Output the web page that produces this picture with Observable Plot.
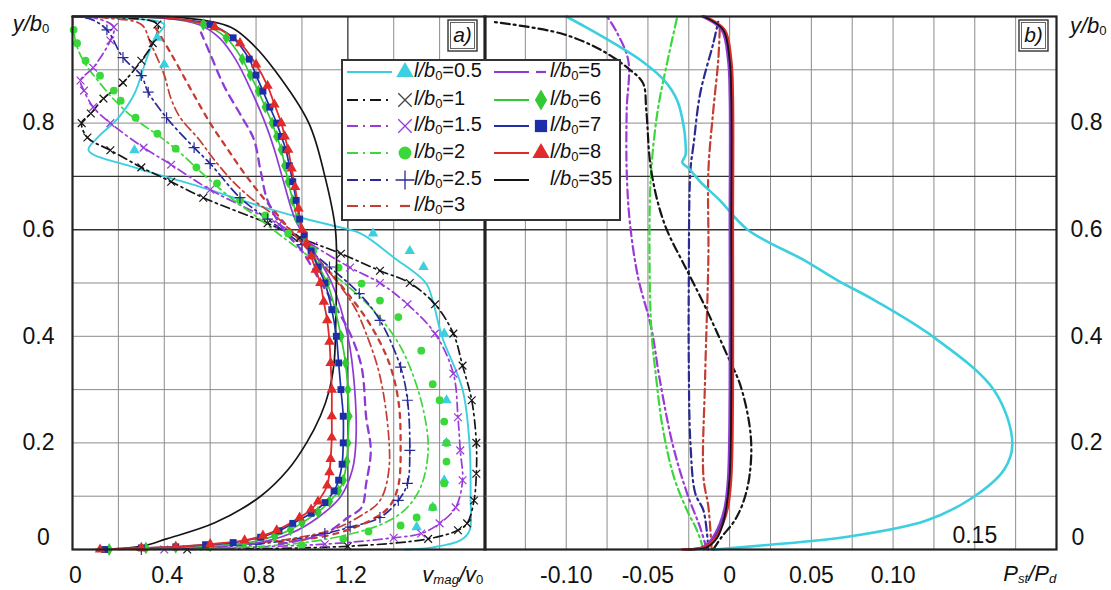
<!DOCTYPE html>
<html><head><meta charset="utf-8">
<script src="https://cdn.jsdelivr.net/npm/d3@7"></script>
<script src="https://cdn.jsdelivr.net/npm/@observablehq/plot@0.6"></script>
<style>
html,body{margin:0;padding:0;background:#fff;}
#wrap{position:relative;width:1111px;height:590px;overflow:hidden;font-family:"Liberation Sans",Arial,Helvetica,sans-serif;}
#wrap > svg{position:absolute;top:0;overflow:visible;}
</style></head><body><div id="wrap"></div>
<script>
// ---------------- DATA ----------------
const seriesLabels = ["0.5","1","1.5","2","2.5","3","5","6","7","8","35"];

// panel a) : v_mag/v_0 (x) versus y/b_0 (y)
const a05 = [[1.45,0],[1.57,0.004],[1.69,0.017],[1.73,0.035],[1.735,0.1],[1.73,0.2],[1.70,0.3],[1.61,0.4],[1.57,0.467],[1.54,0.5],[1.40,0.548],[1.255,0.593],[1.14,0.607],[1.0,0.622],[0.85,0.64],[0.56,0.68],[0.27,0.717],[0.07,0.749],[0.11,0.773],[0.2,0.81],[0.27,0.855],[0.32,0.917],[0.36,0.96],[0.40,0.985],[0.2,0.997],[0,1]];
const a05m = [[1.50,0.042],[1.57,0.079],[1.62,0.13],[1.63,0.2],[1.63,0.28],[1.62,0.405],[1.53,0.53],[1.47,0.56],[1.31,0.593],[0.27,0.749],[0.40,0.91],[0.37,0.96]];
const a1 = [[0.5,0],[1.2,0.006],[1.55,0.02],[1.68,0.036],[1.72,0.049],[1.75,0.092],[1.76,0.142],[1.76,0.2],[1.74,0.28],[1.70,0.345],[1.66,0.405],[1.58,0.46],[1.47,0.5],[1.34,0.523],[1.17,0.555],[0.99,0.585],[0.85,0.612],[0.57,0.66],[0.43,0.69],[0.30,0.717],[0.165,0.749],[0.065,0.773],[0.04,0.8],[0.08,0.818],[0.135,0.846],[0.22,0.876],[0.30,0.917],[0.35,0.95],[0.37,0.985],[0.2,0.998],[0,1]];
const a15 = [[0.4,0],[1.1,0.01],[1.4,0.022],[1.52,0.03],[1.60,0.049],[1.67,0.079],[1.70,0.13],[1.69,0.186],[1.68,0.248],[1.66,0.33],[1.58,0.405],[1.46,0.46],[1.34,0.5],[1.21,0.529],[1.05,0.57],[0.9,0.61],[0.6,0.675],[0.43,0.722],[0.31,0.754],[0.165,0.8],[0.09,0.83],[0.05,0.861],[0.035,0.88],[0.09,0.904],[0.165,0.955],[0.18,0.98],[0.1,0.997],[0,1]];
const a2 = [[0.3,0],[0.95,0.01],[1.22,0.03],[1.36,0.05],[1.45,0.075],[1.51,0.11],[1.54,0.15],[1.55,0.2],[1.53,0.26],[1.49,0.32],[1.43,0.38],[1.35,0.43],[1.25,0.475],[1.14,0.515],[1.03,0.55],[0.92,0.585],[0.80,0.625],[0.69,0.66],[0.58,0.7],[0.48,0.74],[0.38,0.775],[0.28,0.805],[0.19,0.84],[0.11,0.88],[0.05,0.915],[0.015,0.95],[0.003,0.985],[0,1]];
const a2m = [[1.0,0.008],[1.18,0.02],[1.29,0.034],[1.43,0.045],[1.50,0.06],[1.57,0.079],[1.62,0.124],[1.63,0.165],[1.63,0.2],[1.62,0.24],[1.60,0.28],[1.57,0.31],[1.52,0.373],[1.42,0.436],[1.34,0.467],[1.26,0.499],[1.16,0.529],[1.05,0.561],[0.94,0.593],[0.84,0.627],[0.73,0.655],[0.63,0.687],[0.54,0.717],[0.45,0.752],[0.37,0.78],[0.275,0.81],[0.21,0.842],[0.18,0.861],[0.12,0.889],[0.057,0.917],[0.02,0.95],[0.005,0.975]];
const a25 = [[0.3,0],[0.8,0.01],[1.1,0.03],[1.21,0.042],[1.34,0.06],[1.42,0.092],[1.46,0.124],[1.47,0.186],[1.46,0.28],[1.43,0.342],[1.34,0.43],[1.25,0.48],[1.12,0.53],[1.0,0.572],[0.85,0.62],[0.73,0.66],[0.60,0.724],[0.53,0.754],[0.41,0.81],[0.33,0.858],[0.30,0.889],[0.22,0.923],[0.15,0.975],[0.08,0.995],[0,1]];
const a3 = [[0.25,0],[0.6,0.006],[0.95,0.02],[1.15,0.04],[1.27,0.067],[1.33,0.086],[1.36,0.11],[1.38,0.154],[1.38,0.2],[1.36,0.28],[1.33,0.342],[1.28,0.405],[1.23,0.454],[1.12,0.52],[1.0,0.575],[0.9,0.62],[0.79,0.655],[0.70,0.69],[0.62,0.73],[0.55,0.77],[0.47,0.81],[0.43,0.845],[0.40,0.89],[0.34,0.95],[0.30,0.985],[0.15,0.997],[0,1]];
const a3m = [[0.9,0.012],[1.15,0.03],[1.3,0.055],[1.38,0.08],[1.42,0.12],[1.43,0.2],[1.42,0.28],[1.38,0.35],[1.30,0.42],[1.2,0.48],[1.1,0.53],[0.97,0.59],[0.85,0.65],[0.75,0.705],[0.67,0.755],[0.60,0.8],[0.52,0.86],[0.43,0.93],[0.36,0.98]];
const a5 = [[0.2,0],[0.5,0.004],[0.8,0.012],[0.95,0.03],[1.07,0.06],[1.17,0.1],[1.22,0.15],[1.235,0.2],[1.23,0.3],[1.20,0.4],[1.13,0.5],[1.05,0.56],[0.97,0.62],[0.92,0.69],[0.88,0.75],[0.84,0.8],[0.78,0.86],[0.71,0.92],[0.64,0.96],[0.55,0.985],[0.4,0.997],[0,1]];
const a5m = [[0.9,0.01],[1.1,0.03],[1.2,0.06],[1.26,0.079],[1.28,0.124],[1.30,0.186],[1.28,0.248],[1.26,0.342],[1.21,0.405],[1.14,0.46],[1.07,0.51],[1.0,0.56],[0.92,0.6],[0.85,0.655],[0.82,0.71],[0.79,0.77],[0.74,0.81],[0.66,0.87],[0.60,0.93],[0.56,0.97]];
const a6 = [[0.16,0],[0.32,0.003],[0.45,0.004],[0.6,0.007],[0.75,0.012],[0.88,0.025],[0.95,0.037],[1.0,0.05],[1.07,0.07],[1.12,0.09],[1.16,0.11],[1.18,0.13],[1.195,0.165],[1.20,0.2],[1.205,0.25],[1.20,0.3],[1.19,0.35],[1.17,0.4],[1.145,0.45],[1.11,0.5],[1.075,0.53],[1.04,0.56],[1.01,0.59],[0.98,0.62],[0.96,0.655],[0.94,0.69],[0.925,0.72],[0.91,0.75],[0.89,0.775],[0.87,0.8],[0.84,0.83],[0.81,0.86],[0.775,0.89],[0.74,0.92],[0.67,0.96],[0.57,0.985],[0.40,0.997],[0,1]];
const a7 = [[0.14,0],[0.3,0.003],[0.45,0.005],[0.58,0.009],[0.70,0.013],[0.82,0.023],[0.90,0.035],[0.96,0.049],[1.04,0.068],[1.10,0.088],[1.14,0.11],[1.16,0.13],[1.175,0.16],[1.18,0.2],[1.18,0.25],[1.17,0.3],[1.16,0.35],[1.15,0.4],[1.13,0.45],[1.10,0.5],[1.07,0.53],[1.04,0.56],[1.01,0.59],[0.99,0.62],[0.975,0.655],[0.96,0.69],[0.945,0.72],[0.93,0.75],[0.91,0.775],[0.89,0.8],[0.86,0.83],[0.83,0.86],[0.80,0.89],[0.77,0.92],[0.70,0.96],[0.60,0.985],[0.40,0.997],[0,1]];
const a8 = [[0.12,0],[0.3,0.003],[0.45,0.005],[0.6,0.01],[0.75,0.017],[0.83,0.026],[0.89,0.036],[0.99,0.06],[1.04,0.075],[1.07,0.09],[1.11,0.12],[1.12,0.145],[1.125,0.17],[1.13,0.21],[1.13,0.25],[1.13,0.3],[1.125,0.35],[1.12,0.39],[1.11,0.43],[1.095,0.465],[1.08,0.5],[1.06,0.525],[1.04,0.55],[1.02,0.575],[1.0,0.6],[0.985,0.64],[0.97,0.68],[0.955,0.715],[0.94,0.75],[0.925,0.775],[0.91,0.8],[0.88,0.835],[0.85,0.87],[0.80,0.91],[0.73,0.95],[0.62,0.98],[0.45,0.996],[0,1]];
const a35 = [[0.10,0],[0.30,0.006],[0.41,0.02],[0.62,0.05],[0.82,0.1],[0.94,0.15],[1.02,0.2],[1.08,0.25],[1.12,0.3],[1.14,0.35],[1.146,0.4],[1.15,0.5],[1.146,0.6],[1.10,0.7],[1.03,0.8],[0.88,0.9],[0.78,0.95],[0.69,0.98],[0.5,0.997],[0,1]];

// panel b) : P_st/P_d (x) versus y/b_0 (y)
const b05 = [[-0.009,0],[0.021,0.008],[0.07,0.023],[0.12,0.054],[0.149,0.098],[0.168,0.15],[0.173,0.199],[0.162,0.298],[0.125,0.398],[0.089,0.467],[0.066,0.505],[0.046,0.542],[0.011,0.6],[-0.006,0.655],[-0.018,0.69],[-0.025,0.715],[-0.029,0.726],[-0.027,0.74],[-0.027,0.762],[-0.028,0.792],[-0.032,0.842],[-0.04,0.88],[-0.054,0.917],[-0.071,0.95],[-0.088,0.98],[-0.1,1.0]];
const b1 = [[-0.01,0],[-0.005,0.023],[0.003,0.054],[0.008,0.086],[0.012,0.135],[0.013,0.21],[0.007,0.304],[-0.002,0.368],[-0.016,0.462],[-0.026,0.523],[-0.040,0.612],[-0.048,0.711],[-0.051,0.824],[-0.053,0.875],[-0.061,0.9],[-0.078,0.936],[-0.103,0.968],[-0.145,0.99]];
const b15 = [[-0.014,0],[-0.018,0.041],[-0.026,0.105],[-0.035,0.199],[-0.043,0.323],[-0.048,0.417],[-0.056,0.51],[-0.061,0.612],[-0.063,0.711],[-0.063,0.824],[-0.062,0.917],[-0.069,0.97],[-0.075,1.0]];
const b2 = [[-0.016,0],[-0.02,0.036],[-0.026,0.073],[-0.034,0.135],[-0.041,0.229],[-0.045,0.323],[-0.048,0.417],[-0.049,0.612],[-0.048,0.711],[-0.044,0.824],[-0.038,0.917],[-0.032,1.0]];
const b25 = [[-0.013,0],[-0.016,0.073],[-0.021,0.105],[-0.024,0.2],[-0.025,0.35],[-0.025,0.5],[-0.024,0.711],[-0.022,0.762],[-0.018,0.856],[-0.01,0.95],[-0.007,0.99]];
const b3 = [[-0.011,0],[-0.013,0.08],[-0.016,0.135],[-0.015,0.323],[-0.013,0.55],[-0.013,0.711],[-0.01,0.824],[-0.007,0.917],[-0.006,0.98]];
const b5 = [[-0.028,0],[-0.017,0.004],[-0.011,0.02],[-0.006,0.049],[-0.003,0.08],[-0.001,0.135],[0.0,0.3],[0.0,0.6],[0.0,0.85],[-0.001,0.918],[-0.005,0.975],[-0.017,1.0]];
const b6 = [[-0.027,0],[-0.016,0.004],[-0.010,0.02],[-0.005,0.049],[-0.002,0.08],[0.0,0.135],[0.001,0.3],[0.001,0.6],[0.001,0.85],[0.0,0.918],[-0.004,0.975],[-0.016,1.0]];
const b7 = [[-0.027,0],[-0.016,0.004],[-0.010,0.02],[-0.005,0.049],[-0.002,0.08],[0.0,0.135],[0.001,0.3],[0.001,0.6],[0.001,0.85],[0.0,0.918],[-0.004,0.975],[-0.016,1.0]];
const b8 = [[-0.029,0],[-0.016,0.004],[-0.009,0.02],[-0.004,0.049],[-0.001,0.08],[0.001,0.135],[0.002,0.3],[0.002,0.6],[0.002,0.85],[0.001,0.918],[-0.003,0.975],[-0.015,1.0]];
const b35 = [[-0.025,0],[-0.014,0.004],[-0.008,0.02],[-0.004,0.049],[-0.002,0.08],[0.0,0.135],[0.001,0.3],[0.001,0.6],[0.001,0.85],[0.0,0.918],[-0.004,0.975],[-0.016,1.0]];

// ticks
const yTicks = [0, 0.2, 0.4, 0.6, 0.8];
const yTickLabels = ["0", "0.2", "0.4", "0.6", "0.8"];
const xTicksA = [0, 0.4, 0.8, 1.2];
const xTickLabelsA = ["0", "0.4", "0.8", "1.2"];
const xTicksB = [-0.10, -0.05, 0, 0.05, 0.10];
const xTickLabelsB = ["-0.10", "-0.05", "0", "0.05", "0.10"];
const gridXA = [0.2, 0.4, 0.6, 0.8, 1.0, 1.2, 1.4, 1.6];
const gridXB = [-0.125, -0.1, -0.075, -0.05, -0.025, 0, 0.025, 0.05, 0.075, 0.1, 0.125, 0.15, 0.175];
const gridY = [0.1, 0.2, 0.3, 0.4, 0.5, 0.8, 0.9];
const gridYDark = [0.6, 0.7];

// ---------------- STYLE ----------------
const colors = ["#3ccfe0","#151515","#9a3ad8","#3bd83b","#2a2a96","#c43c32","#8e3bd6","#33c933","#1d2fa8","#e12a2a","#151515"];
const dashes = [null,"9,4,2,4","9,4,2,4","9,4,2,4","9,4,2,4","9,4,2,4",null,null,null,null,null];
const syms = ["triangle","times","times","circle","plus","dash","dash","diamond","square","triangle",null];
const font = '"Liberation Sans", Arial, Helvetica, sans-serif';
const rows = a => a.map(([x, y]) => ({x, y}));
const fillSyms = new Set(["triangle","circle","diamond","square"]);

function lineMark(data, i, sw, dash) {
  return Plot.line(rows(data), {x: "x", y: "y", stroke: colors[i], strokeWidth: sw,
    strokeDasharray: dash === undefined ? (dashes[i] || undefined) : dash, curve: "catmull-rom"});
}
function dotMark(data, i) {
  const s = syms[i];
  const d = rows(data).filter(p => p.y < 0.993);
  return fillSyms.has(s)
    ? Plot.dot(d, {x: "x", y: "y", symbol: s, r: 3.9, fill: colors[i], stroke: "none"})
    : Plot.dot(d, {x: "x", y: "y", symbol: s, r: 3.6, fill: "none", stroke: colors[i], strokeWidth: 1.2});
}
function gridMarks(gx) {
  return [
    Plot.ruleX(gx, {stroke: "#8c8c8c", strokeWidth: 1}),
    Plot.ruleY(gridY, {stroke: "#8c8c8c", strokeWidth: 1}),
    Plot.ruleY(gridYDark, {stroke: "#333", strokeWidth: 1.4})
  ];
}
function ruleDark() { return Plot.ruleX([1.2], {stroke: "#444", strokeWidth: 1.2}); }

const wrap = document.getElementById("wrap");

// ---------------- PANEL A ----------------
const plotA = Plot.plot({
  width: 486, height: 590,
  marginLeft: 72, marginRight: 1, marginTop: 16, marginBottom: 41,
  x: {domain: [0, 1.8], axis: null},
  y: {domain: [0, 1], axis: null},
  style: {fontFamily: font, background: "transparent", overflow: "visible"},
  marks: [
    ...gridMarks(gridXA),
    ruleDark(),
    lineMark(a05, 0, 1.9), lineMark(a1, 1, 1.7), lineMark(a15, 2, 1.7), lineMark(a2, 3, 1.7), lineMark(a25, 4, 1.7), lineMark(a3, 5, 1.7),
    lineMark(a3m, 5, 2.3, "5,6"), lineMark(a5m, 6, 2.3, "8,6"),
    dotMark(a05m, 0), dotMark(a1, 1), dotMark(a15, 2), dotMark(a2m, 3), dotMark(a25, 4),
    lineMark(a5, 6, 1.7), lineMark(a35, 10, 1.7), lineMark(a6, 7, 1.7), lineMark(a7, 8, 1.7), lineMark(a8, 9, 1.8),
    dotMark(a6, 7), dotMark(a7, 8), dotMark(a8, 9),
    Plot.frame({stroke: "#222", strokeWidth: 2.2}),
    Plot.text(xTicksA, {x: d => d, text: (d, i) => xTickLabelsA[i], frameAnchor: "bottom", dy: 26, fontSize: 23, fill: "#111", lineAnchor: "middle", textAnchor: "middle", dx: 3}),
    Plot.text(yTicks.slice(1), {y: d => d, text: (d, i) => yTickLabels[i + 1], frameAnchor: "left", dx: -34, fontSize: 23, fill: "#111", lineAnchor: "middle", textAnchor: "middle"}),
    Plot.text(yTicks.slice(0, 1), {y: d => d, text: () => yTickLabels[0], frameAnchor: "left", dx: -29, dy: -12, fontSize: 23, fill: "#111", lineAnchor: "middle", textAnchor: "middle"})
  ]
});
plotA.style.left = "0px";
wrap.appendChild(plotA);

// ---------------- PANEL B ----------------
const plotB = Plot.plot({
  width: 627, height: 590,
  marginLeft: 0, marginRight: 55, marginTop: 16, marginBottom: 41,
  x: {domain: [-0.15, 0.2], axis: null},
  y: {domain: [0, 1], axis: null},
  style: {fontFamily: font, background: "transparent", overflow: "visible"},
  marks: [
    ...gridMarks(gridXB),
    lineMark(b15, 2, 2.2), lineMark(b2, 3, 2.2), lineMark(b25, 4, 2.2), lineMark(b3, 5, 2.2), lineMark(b1, 1, 2.2),
    lineMark(b05, 0, 2.6),
    lineMark(b6, 7, 2.2), lineMark(b7, 8, 2.2), lineMark(b5, 6, 2.2), lineMark(b8, 9, 2.4), lineMark(b35, 10, 1.8),
    Plot.frame({stroke: "#222", strokeWidth: 2.2}),
    Plot.text(xTicksB, {x: d => d, text: (d, i) => xTickLabelsB[i], frameAnchor: "bottom", dy: 26, fontSize: 23, fill: "#111", lineAnchor: "middle", textAnchor: "middle"}),
    Plot.text([0.15], {x: d => d, text: () => "0.15", frameAnchor: "bottom", dy: -14, fontSize: 23, fill: "#111", lineAnchor: "middle", textAnchor: "middle"}),
    Plot.text(yTicks.slice(1), {y: d => d, text: (d, i) => yTickLabels[i + 1], frameAnchor: "right", dx: 14, fontSize: 23, fill: "#111", lineAnchor: "middle", textAnchor: "start"}),
    Plot.text(yTicks.slice(0, 1), {y: d => d, text: () => yTickLabels[0], frameAnchor: "right", dx: 15, dy: -12, fontSize: 23, fill: "#111", lineAnchor: "middle", textAnchor: "start"})
  ]
});
plotB.style.left = "484px";
wrap.appendChild(plotB);

// ---------------- RICH TEXT (titles) ----------------
function rich(svg, x, y, parts, anchor, size) {
  const t = d3.select(svg).append("text").attr("x", x).attr("y", y)
    .attr("text-anchor", anchor).attr("font-size", size).attr("fill", "#111")
    .attr("font-family", font).attr("dominant-baseline", "middle");
  let sub = false;
  for (const p of parts) {
    const ts = t.append("tspan").text(p.t);
    if (p.i) ts.attr("font-style", "italic");
    if (p.s && !sub) { ts.attr("dy", 5).attr("font-size", size * 0.6); sub = true; }
    else if (p.s) { ts.attr("font-size", size * 0.6); }
    else if (!p.s && sub) { ts.attr("dy", -5); sub = false; }
  }
  return t;
}
const xA = plotA.scale("x"), yA = plotA.scale("y");
const xB = plotB.scale("x"), yB = plotB.scale("y");
const yTop = yA.apply(1), yBot = yA.apply(0);
rich(plotA, xA.apply(1.66), yBot + 27, [{t: "v", i: 1}, {t: "mag", i: 1, s: 1}, {t: "/", i: 1}, {t: "v", i: 1}, {t: "0", s: 1}], "middle", 22);
rich(plotB, xB.apply(0.184), yBot + 26, [{t: "P", i: 1}, {t: "st", i: 1, s: 1}, {t: "/", i: 1}, {t: "P", i: 1}, {t: "d", i: 1, s: 1}], "middle", 22);
rich(plotA, xA.apply(0) - 41, yTop + 9, [{t: "y/b", i: 1}, {t: "0", s: 1}], "middle", 22);
rich(plotB, xB.apply(0.2) + 14, yTop + 11, [{t: "y/b", i: 1}, {t: "0", s: 1}], "start", 22);

function panelTag(svg, xr, label) {
  const g = d3.select(svg).append("g");
  g.append("rect").attr("x", xr - 37).attr("y", yTop + 4).attr("width", 29).attr("height", 31)
    .attr("fill", "#fff").attr("stroke", "#333").attr("stroke-width", 1.4);
  g.append("rect").attr("x", xr - 34.5).attr("y", yTop + 6.5).attr("width", 24).attr("height", 26)
    .attr("fill", "none").attr("stroke", "#555").attr("stroke-width", 0.9);
  g.append("text").attr("x", xr - 22.5).attr("y", yTop + 20.5).attr("text-anchor", "middle")
    .attr("dominant-baseline", "middle").attr("font-style", "italic").attr("font-size", 21)
    .attr("font-family", font).attr("fill", "#111").text(label);
}
panelTag(plotA, xA.apply(1.8), "a)");
panelTag(plotB, xB.apply(0.2), "b)");

// ---------------- LEGEND ----------------
const leg = d3.create("svg").attr("width", 280).attr("height", 162)
  .style("left", "341px").style("top", "59px").style("position", "absolute").style("overflow", "visible");
leg.append("rect").attr("x", 1).attr("y", 1).attr("width", 278).attr("height", 160)
  .attr("fill", "#fff").attr("stroke", "#333").attr("stroke-width", 2);
const rowY = [13, 41, 67, 94, 121, 147];
const d3sym = {triangle: d3.symbolTriangle, times: d3.symbolTimes, circle: d3.symbolCircle, plus: d3.symbolPlus, diamond: d3.symbolDiamond, square: d3.symbolSquare};
seriesLabels.forEach((lab, i) => {
  const col = i < 6 ? 0 : 1;
  const r = col ? i - 6 : i;
  const y = rowY[r];
  const x0 = col ? 153 : 6, x1 = col ? 188 : 51, xm = col ? 200 : 64, xt = col ? 209 : 73;
  leg.append("line").attr("x1", x0).attr("x2", x1).attr("y1", y).attr("y2", y)
    .attr("stroke", colors[i]).attr("stroke-width", 2)
    .attr("stroke-dasharray", dashes[i] ? "11,5,2,5" : null);
  const s = syms[i];
  if (s === "dash") {
    leg.append("line").attr("x1", xm - 5).attr("x2", xm + 5).attr("y1", y).attr("y2", y)
      .attr("stroke", colors[i]).attr("stroke-width", 2.2);
  } else if (s) {
    const size = s === "circle" ? 130 : s === "square" ? 150 : s === "times" || s === "plus" ? 120 : 130;
    leg.append("path").attr("transform", `translate(${xm},${y})`)
      .attr("d", d3.symbol(d3sym[s], size)())
      .attr("fill", fillSyms.has(s) ? colors[i] : "none")
      .attr("stroke", fillSyms.has(s) ? "none" : (i === 1 ? "#444" : colors[i])).attr("stroke-width", 1.3);
  }
  const t = leg.append("text").attr("x", xt).attr("y", y).attr("dominant-baseline", "middle")
    .attr("font-family", font).attr("font-size", 20).attr("fill", "#111");
  t.append("tspan").attr("font-style", "italic").text("l/b");
  t.append("tspan").attr("font-size", 13).attr("dy", 5).text("0");
  t.append("tspan").attr("dy", -5).text("=" + lab);
});
wrap.appendChild(leg.node());
</script>
</body></html>
